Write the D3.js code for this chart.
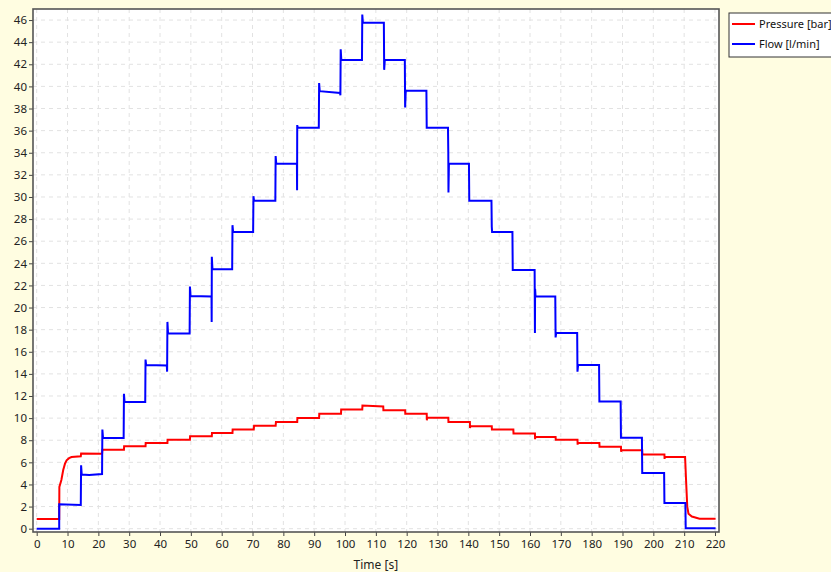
<!DOCTYPE html>
<html>
<head>
<meta charset="utf-8">
<script src="https://cdn.jsdelivr.net/npm/d3@7"></script>
<style>
  body { margin: 0; background: #fffde1; }
  svg { display: block; }
  .tick text { font-family: "Noto Sans", "Segoe UI", sans-serif; font-size: 11.5px; fill: #222; }
  .tick line { stroke: #444; }
</style>
</head>
<body>
<svg id="chart"></svg>
<script>
// time [s], value pairs
const pressure = [
  [0, 0.87], [7.3, 0.87], [7.35, 3.77], [8.0, 4.4], [8.6, 5.3], [9.2, 5.9], [9.7, 6.18], [10.5, 6.38],
  [11.3, 6.48], [14.3, 6.55], [14.4, 6.8], [21.2, 6.78], [21.3, 7.15], [28.3, 7.15], [28.35, 7.45],
  [35.3, 7.45], [35.35, 7.75], [42.4, 7.75], [42.45, 8.05], [49.7, 8.05], [49.75, 8.35], [56.8, 8.35],
  [56.85, 8.65], [63.5, 8.65], [63.55, 8.96], [70.4, 8.96], [70.5, 9.3], [77.5, 9.3], [77.6, 9.65],
  [84.5, 9.65], [84.55, 10.0], [91.6, 10.0], [91.65, 10.4], [98.7, 10.4], [98.75, 10.77], [105.6, 10.77],
  [105.65, 11.13], [112.4, 11.05], [112.45, 10.7], [119.5, 10.7], [119.55, 10.4], [126.5, 10.4],
  [126.55, 9.8], [126.6, 10.04], [133.5, 10.04], [133.55, 9.65], [140.5, 9.65], [140.55, 9.1],
  [140.6, 9.26], [147.6, 9.26], [147.65, 8.96], [154.6, 8.96], [154.65, 8.6], [161.6, 8.6],
  [161.65, 8.1], [161.7, 8.3], [168.3, 8.3], [168.35, 8.05], [175.4, 8.05], [175.45, 7.6],
  [175.5, 7.75], [182.5, 7.75], [182.55, 7.4], [189.5, 7.4], [189.55, 6.95], [189.6, 7.09],
  [196.4, 7.09], [196.45, 6.72], [203.6, 6.72], [203.65, 6.3], [203.7, 6.48], [210.3, 6.48],
  [210.6, 4.5], [211.0, 2.0], [211.4, 1.36], [212.5, 1.1], [215, 0.9], [220.2, 0.9]
];

const flow = [
  [0, 0], [7.3, 0], [7.3, 2.2], [14.3, 2.15],
  [14.4, 5.73], [14.6, 4.9], [17, 4.85], [21.2, 4.94],
  [21.3, 8.96], [21.5, 8.23], [28.2, 8.2],
  [28.3, 12.2], [28.5, 11.46], [35.2, 11.45],
  [35.3, 15.3], [35.5, 14.8], [42.2, 14.75], [42.3, 14.2],
  [42.4, 18.7], [42.6, 17.67], [49.6, 17.65],
  [49.7, 21.9], [49.9, 21.05], [56.7, 21.0], [56.75, 18.7],
  [56.8, 24.6], [57.0, 23.47], [63.4, 23.47],
  [63.5, 27.45], [63.7, 26.84], [70.2, 26.84],
  [70.3, 30.07], [70.5, 29.65], [77.4, 29.65],
  [77.5, 33.7], [77.7, 33.0], [84.4, 33.0], [84.45, 30.6],
  [84.5, 36.5], [84.7, 36.25], [91.5, 36.25],
  [91.6, 40.3], [91.8, 39.57], [98.4, 39.4], [98.5, 39.2],
  [98.6, 43.35], [98.8, 42.38], [105.5, 42.38],
  [105.6, 46.5], [105.8, 45.76], [112.6, 45.76],
  [112.7, 41.5], [112.9, 42.38], [119.4, 42.38],
  [119.5, 38.1], [119.7, 39.6], [126.4, 39.6],
  [126.5, 36.25], [133.4, 36.25],
  [133.5, 34.0], [133.55, 30.4], [133.7, 33.0], [140.2, 33.0],
  [140.3, 29.65], [147.5, 29.65],
  [147.6, 27.3], [147.7, 26.84], [154.3, 26.84],
  [154.4, 23.4], [161.5, 23.4],
  [161.6, 17.7], [161.65, 21.7], [161.8, 21.0], [168.2, 21.0],
  [168.3, 17.3], [168.5, 17.7], [175.3, 17.7],
  [175.4, 14.2], [175.6, 14.8], [182.4, 14.8],
  [182.5, 11.5], [189.4, 11.5],
  [189.5, 8.23], [196.3, 8.23],
  [196.4, 5.03], [203.5, 5.03],
  [203.6, 2.32], [210.4, 2.32],
  [210.5, 0.05], [220.2, 0.05]
];

const xTicks = d3.range(0, 221, 10);
const yTicks = d3.range(0, 47, 2);
const seriesNames = ['Pressure [bar]', 'Flow [l/min]'];
const seriesColors = ['#ff0000', '#0000ff'];

class lineChart {
  constructor(_config) {
    this.config = {
      parentElement: _config.parentElement,
      containerWidth: _config.containerWidth || 831,
      containerHeight: _config.containerHeight || 572,
      margin: { top: 9, bottom: 40, right: 112, left: 33 }
    }
    this.initVis();
  }
  initVis() {
    let vis = this;
    vis.width = vis.config.containerWidth - vis.config.margin.left - vis.config.margin.right;
    vis.height = vis.config.containerHeight - vis.config.margin.top - vis.config.margin.bottom;

    vis.svg = d3.select(vis.config.parentElement)
      .attr('width', vis.config.containerWidth)
      .attr('height', vis.config.containerHeight);

    vis.chart = vis.svg.append('g')
      .attr('transform', `translate(${vis.config.margin.left},${vis.config.margin.top})`);

    vis.xScale = d3.scaleLinear().domain([-1.2, 221.3]).range([0, vis.width]);
    vis.yScale = d3.scaleLinear().domain([-0.3, 47]).range([vis.height, 0]);

    // plot background
    vis.chart.append('rect')
      .attr('width', vis.width)
      .attr('height', vis.height)
      .attr('fill', '#fff');

    // dashed grid
    vis.chart.append('g').selectAll('line.gx')
      .data(xTicks)
      .join('line')
        .attr('x1', d => vis.xScale(d)).attr('x2', d => vis.xScale(d))
        .attr('y1', 0).attr('y2', vis.height)
        .attr('stroke', '#e2e2e2')
        .attr('stroke-dasharray', '4,4');
    vis.chart.append('g').selectAll('line.gy')
      .data(yTicks)
      .join('line')
        .attr('x1', 0).attr('x2', vis.width)
        .attr('y1', d => vis.yScale(d)).attr('y2', d => vis.yScale(d))
        .attr('stroke', '#e2e2e2')
        .attr('stroke-dasharray', '4,4');

    vis.xAxis = d3.axisBottom(vis.xScale).tickValues(xTicks).tickSize(4).tickSizeOuter(0).tickPadding(4);
    vis.yAxis = d3.axisLeft(vis.yScale).tickValues(yTicks).tickSize(4).tickSizeOuter(0).tickPadding(2);

    vis.chart.append('g')
      .attr('transform', `translate(0,${vis.height})`)
      .call(vis.xAxis)
      .call(g => g.select('.domain').remove());
    vis.chart.append('g')
      .call(vis.yAxis)
      .call(g => g.select('.domain').remove());

    vis.svg.append('text')
      .attr('x', vis.config.margin.left + vis.xScale(110))
      .attr('y', 569)
      .attr('text-anchor', 'middle')
      .text('Time [s]')
      .attr('font-family', '"Noto Sans", sans-serif')
      .attr('font-size', 12)
      .attr('fill', '#222');

    vis.updateVis();

    // frame on top
    vis.chart.append('rect')
      .attr('width', vis.width)
      .attr('height', vis.height)
      .attr('fill', 'none')
      .attr('stroke', '#555')
      .attr('stroke-width', 1.6);

    // legend (runs off the right edge like the original)
    let leg = vis.svg.append('g').attr('transform', 'translate(729,13)');
    leg.append('rect')
      .attr('width', 110).attr('height', 44)
      .attr('fill', '#fff').attr('stroke', '#333');
    leg.selectAll('line')
      .data(seriesNames)
      .join('line')
        .attr('x1', 3).attr('x2', 26)
        .attr('y1', (d, i) => 11 + i * 20).attr('y2', (d, i) => 11 + i * 20)
        .attr('stroke', (d, i) => seriesColors[i])
        .attr('stroke-width', 2);
    leg.selectAll('text')
      .data(seriesNames)
      .join('text')
        .attr('x', 30)
        .attr('y', (d, i) => 11 + i * 20)
        .attr('dy', '0.35em')
        .text(d => d)
        .attr('font-family', '"Noto Sans", sans-serif')
        .attr('font-size', 11)
        .attr('fill', '#111');
  }
  updateVis() {
    let vis = this;
    vis.line = d3.line()
      .x(d => vis.xScale(d[0]))
      .y(d => vis.yScale(d[1]));

    vis.chart.selectAll('.series')
      .data([pressure, flow])
      .join('path')
        .attr('class', 'series')
        .attr('d', d => vis.line(d))
        .attr('fill', 'none')
        .attr('stroke', (d, i) => seriesColors[i])
        .attr('stroke-width', 2)
        .attr('stroke-linejoin', 'miter');
  }
}

new lineChart({ parentElement: '#chart' });
</script>
</body>
</html>
